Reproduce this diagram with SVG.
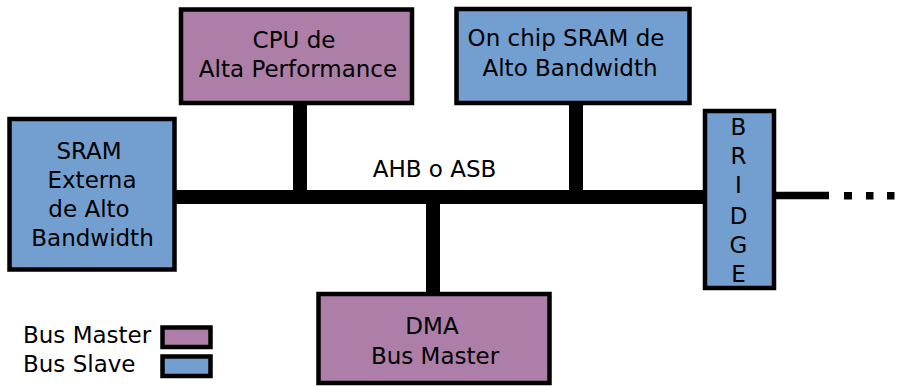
<svg xmlns="http://www.w3.org/2000/svg" width="906" height="387" viewBox="0 0 906 387">
  <style>
    .master { fill: #ad7fa8; stroke: #000; stroke-width: 4.5; }
    .slave { fill: #729fcf; stroke: #000; stroke-width: 4.5; }
    .bus { stroke: #000; stroke-width: 14; fill: none; }
    .lbl { font-family: "DejaVu Sans", sans-serif; font-size: 23px; fill: #000; }
    .c { text-anchor: middle; }
  </style>
  <rect width="906" height="387" fill="#fff"/>

  <!-- bus lines (drawn beneath the blocks) -->
  <g id="connectors">
    <line class="bus" x1="170" y1="197" x2="710" y2="197"/>
    <line class="bus" x1="300" y1="100" x2="300" y2="197"/>
    <line class="bus" x1="576" y1="100" x2="576" y2="197"/>
    <line class="bus" x1="433" y1="197" x2="433" y2="298"/>
    <line class="bus" x1="770" y1="195.5" x2="829" y2="195.5" style="stroke-width:7.5"/>
    <rect x="844" y="192" width="8" height="7.5"/>
    <rect x="866" y="192" width="7.5" height="7.5"/>
    <rect x="887" y="192" width="7.5" height="7.5"/>
    <text class="lbl c" x="434.5" y="177">AHB o ASB</text>
  </g>

  <g id="cpu">
    <rect class="master" x="181" y="9.5" width="231" height="93.5"/>
    <text class="lbl c" x="294" y="47.5">CPU de</text>
    <text class="lbl c" x="298" y="77">Alta Performance</text>
  </g>

  <g id="onchip-sram">
    <rect class="slave" x="456.5" y="9" width="233" height="94"/>
    <text class="lbl c" x="566" y="46">On chip SRAM de</text>
    <text class="lbl c" x="570" y="76">Alto Bandwidth</text>
  </g>

  <g id="sram-externa">
    <rect class="slave" x="9.5" y="119" width="165" height="150.5"/>
    <text class="lbl c" x="89" y="158.5">SRAM</text>
    <text class="lbl c" x="92" y="188">Externa</text>
    <text class="lbl c" x="89" y="217">de Alto</text>
    <text class="lbl c" x="92.5" y="246">Bandwidth</text>
  </g>

  <g id="bridge">
    <rect class="slave" x="705" y="111" width="69" height="177"/>
    <text class="lbl c" x="738.5" y="134.5">B</text>
    <text class="lbl c" x="738.5" y="163.5">R</text>
    <text class="lbl c" x="738.5" y="193">I</text>
    <text class="lbl c" x="738.5" y="224">D</text>
    <text class="lbl c" x="738.5" y="253">G</text>
    <text class="lbl c" x="738.5" y="281.5">E</text>
  </g>

  <g id="dma">
    <rect class="master" x="318.5" y="294" width="231" height="89"/>
    <text class="lbl c" x="432" y="333.5">DMA</text>
    <text class="lbl c" x="435" y="363.5">Bus Master</text>
  </g>

  <g id="legend">
    <text class="lbl" x="23" y="343">Bus Master</text>
    <rect class="master" x="162.5" y="327.5" width="48" height="19.5"/>
    <text class="lbl" x="23" y="372">Bus Slave</text>
    <rect class="slave" x="162.5" y="356.5" width="48" height="19.5"/>
  </g>
</svg>
